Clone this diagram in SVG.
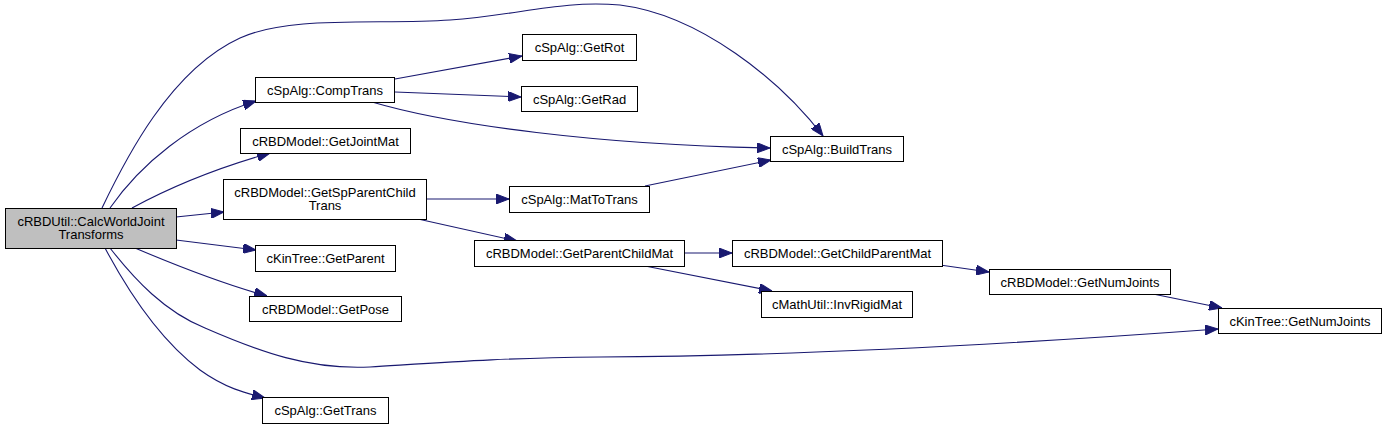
<svg xmlns="http://www.w3.org/2000/svg" width="1387" height="429" viewBox="0 0 1387 429">
<style>
.n rect{fill:#ffffff;stroke:#000000;stroke-width:1}
.n.main rect{fill:#bfbfbf}
.n text{font-family:"Liberation Sans",Arial,sans-serif;font-size:13px;fill:#000000;text-anchor:middle}
.e path{fill:none;stroke:#191970;stroke-width:1.1;marker-end:url(#arr)}
</style>
<defs>
<marker id="arr" markerUnits="userSpaceOnUse" markerWidth="13" markerHeight="10" viewBox="0 0 13 10" refX="13" refY="5" orient="auto">
<path d="M0,0 L13,5 L0,10 z" fill="#191970" stroke="#191970" stroke-width="1"/>
</marker>
</defs>
<rect width="1387" height="429" fill="#ffffff"/>
<g id="edges" class="e">
<path d="M102,208 C125,160 170,70 240,38 C290,15 380,25 450,20 C520,15 560,0 620,5 C700,15 780,80 823,136"/>
<path d="M110,208 C140,165 190,122 256,101"/>
<path d="M132,208 C165,190 210,170 270,153"/>
<path d="M176,217 L224,212"/>
<path d="M176,240 L256,250"/>
<path d="M135,248 C175,265 220,283 267,296"/>
<path d="M110,248 C135,280 165,312 205,328 C260,352 310,370 370,367 C450,362 500,358 600,357 C800,356 1000,345 1218,329"/>
<path d="M105,248 C130,295 160,340 200,370 C225,388 245,393 265,398"/>
<path d="M395,79 L522,56"/>
<path d="M395,92 L521,97"/>
<path d="M372,102 C450,125 600,145 770,148"/>
<path d="M426,199 L509,199"/>
<path d="M418,219 L517,241"/>
<path d="M645,186 L771,160"/>
<path d="M684,253 L732,253"/>
<path d="M645,266 L772,291"/>
<path d="M940,265 L989,272"/>
<path d="M1153,294 L1222,308"/>
</g>
<g id="n_main" class="n main"><rect x="5.5" y="208.5" width="171" height="40"/><text x="91" y="225.5">cRBDUtil::CalcWorldJoint</text><text x="91" y="238.5">Transforms</text></g>
<g id="n_comptrans" class="n"><rect x="255.5" y="77.5" width="139" height="25"/><text x="325" y="94.5">cSpAlg::CompTrans</text></g>
<g id="n_getjointmat" class="n"><rect x="240.5" y="128.5" width="170" height="25"/><text x="325.5" y="145.5">cRBDModel::GetJointMat</text></g>
<g id="n_getspparentchild" class="n"><rect x="223.5" y="179.5" width="203" height="40"/><text x="325" y="196.5">cRBDModel::GetSpParentChild</text><text x="325" y="209.5">Trans</text></g>
<g id="n_getparent" class="n"><rect x="255.5" y="245.5" width="140" height="26"/><text x="325.5" y="262.5">cKinTree::GetParent</text></g>
<g id="n_getpose" class="n"><rect x="249.5" y="296.5" width="152" height="25"/><text x="325.5" y="313.5">cRBDModel::GetPose</text></g>
<g id="n_gettrans" class="n"><rect x="262.5" y="397.5" width="126" height="26"/><text x="325.5" y="414.5">cSpAlg::GetTrans</text></g>
<g id="n_getrot" class="n"><rect x="522.5" y="34.5" width="114" height="26"/><text x="579.5" y="51.5">cSpAlg::GetRot</text></g>
<g id="n_getrad" class="n"><rect x="521.5" y="86.5" width="116" height="25"/><text x="579.5" y="103.5">cSpAlg::GetRad</text></g>
<g id="n_buildtrans" class="n"><rect x="770.5" y="136.5" width="133" height="25"/><text x="837" y="153.5">cSpAlg::BuildTrans</text></g>
<g id="n_mattotrans" class="n"><rect x="509.5" y="186.5" width="140" height="26"/><text x="579.5" y="203.5">cSpAlg::MatToTrans</text></g>
<g id="n_getparentchildmat" class="n"><rect x="474.5" y="240.5" width="210" height="26"/><text x="579.5" y="257.5">cRBDModel::GetParentChildMat</text></g>
<g id="n_getchildparentmat" class="n"><rect x="732.5" y="240.5" width="210" height="26"/><text x="837.5" y="257.5">cRBDModel::GetChildParentMat</text></g>
<g id="n_invrigidmat" class="n"><rect x="761.5" y="291.5" width="151" height="26"/><text x="837" y="308.5">cMathUtil::InvRigidMat</text></g>
<g id="n_rbdgetnumjoints" class="n"><rect x="989.5" y="269.5" width="181" height="25"/><text x="1080" y="286.5">cRBDModel::GetNumJoints</text></g>
<g id="n_kingetnumjoints" class="n"><rect x="1218.5" y="308.5" width="163" height="25"/><text x="1300" y="325.5">cKinTree::GetNumJoints</text></g>
</svg>
